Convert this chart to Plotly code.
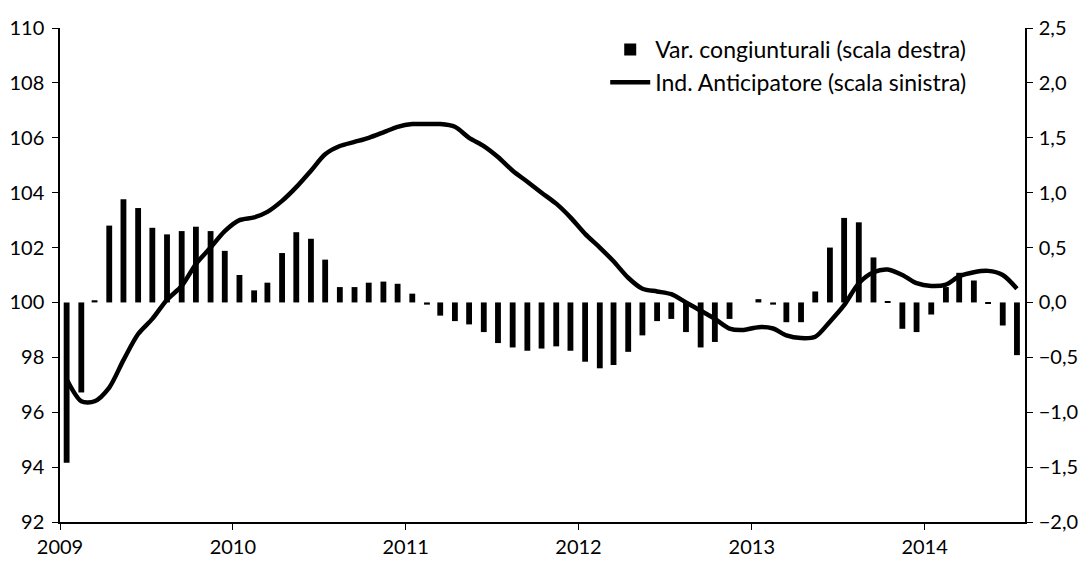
import pandas as pd
import plotly.graph_objects as go

# monthly observations, Jan 2009 - Jul 2014
months = pd.date_range("2009-01-01", periods=67, freq="MS")
years = [2009, 2010, 2011, 2012, 2013, 2014]

# congiunturali (right axis)
var_cong = [-1.46, -0.82, 0.02, 0.70, 0.94, 0.86, 0.68, 0.62, 0.65, 0.69, 0.65, 0.47,
            0.25, 0.11, 0.18, 0.45, 0.64, 0.58, 0.39, 0.14, 0.14, 0.18, 0.19, 0.17,
            0.08, -0.02, -0.12, -0.17, -0.20, -0.27, -0.37, -0.41, -0.44, -0.42, -0.40, -0.44,
            -0.54, -0.60, -0.57, -0.45, -0.30, -0.17, -0.15, -0.27, -0.41, -0.36, -0.15, 0.0,
            0.03, -0.02, -0.18, -0.18, 0.10, 0.50, 0.77, 0.73, 0.41, 0.01, -0.24, -0.27,
            -0.11, 0.14, 0.27, 0.20, -0.01, -0.21, -0.48]

# indice anticipatore (left axis)
ind_antic = [97.2, 96.4, 96.4, 96.9, 97.9, 98.85, 99.4, 100.1, 100.6, 101.4, 102.0, 102.6,
             103.0, 103.1, 103.3, 103.7, 104.2, 104.8, 105.4, 105.7, 105.85, 106.0, 106.2, 106.4,
             106.5, 106.5, 106.5, 106.4, 106.0, 105.7, 105.3, 104.8, 104.4, 104.0, 103.6, 103.1,
             102.5, 102.0, 101.5, 100.9, 100.5, 100.4, 100.3, 100.0, 99.7, 99.4, 99.05, 99.0,
             99.1, 99.05, 98.8, 98.7, 98.75, 99.3, 99.9, 100.7, 101.1, 101.2, 101.0, 100.7,
             100.6, 100.65, 100.95, 101.1, 101.15, 101.0, 100.5]

# centre each month in its slot
x = months + pd.Timedelta(days=14)

fig = go.Figure()
fig.add_trace(go.Bar(x=x, y=var_cong, yaxis="y2", name="Var. congiunturali (scala destra)",
                     marker=dict(color="black", line=dict(width=0))))
fig.add_trace(go.Scatter(x=x, y=ind_antic, mode="lines", name="Ind. Anticipatore (scala sinistra)",
                         line=dict(color="black", width=4.5, shape="spline", smoothing=0.8)))

font_fam = "Lato, Open Sans, sans-serif"
axis_common = dict(showline=True, linecolor="black", linewidth=1.5, showgrid=False, zeroline=False,
                   ticks="outside", ticklen=6, tickcolor="black", tickfont=dict(size=20),
                   automargin=False)
# page body has an 8px default margin, so the figure is a bit smaller than the window
fig.update_layout(
    width=1073, height=550,
    paper_bgcolor="white", plot_bgcolor="white",
    margin=dict(l=52, r=56, t=20, b=36),
    separators=",.",
    font=dict(family=font_fam, size=20, color="black"),
    bargap=0.56,
    showlegend=True,
    legend=dict(x=0.565, y=1.0, xanchor="left", yanchor="top", bgcolor="rgba(0,0,0,0)",
                font=dict(size=23), itemwidth=40, tracegroupgap=0),
    xaxis=dict(type="date", range=["2009-01-01", "2014-08-01"],
               tickvals=[f"{y}-01-01" for y in years], ticktext=[str(y) for y in years],
               **axis_common),
    yaxis=dict(range=[92, 110], dtick=2, ticklabelstandoff=4, **axis_common),
    yaxis2=dict(range=[-2.0, 2.5], dtick=0.5, tickformat=".1f", overlaying="y", side="right",
                ticklabelstandoff=2, **axis_common),
)

fig.write_html("out.html")
